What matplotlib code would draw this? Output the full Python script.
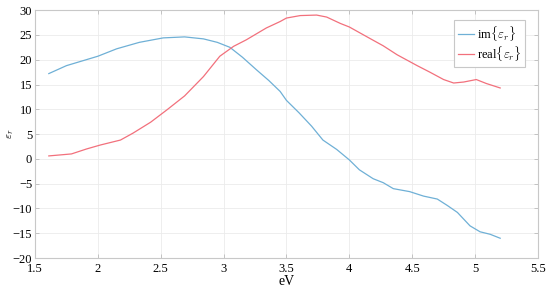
import matplotlib
matplotlib.use("Agg")
import matplotlib.pyplot as plt

# values
ev_im = [1.61, 1.75, 2.0, 2.15, 2.33, 2.52, 2.69, 2.84, 2.95, 3.05, 3.15, 3.26, 3.36, 3.45,
         3.5, 3.6, 3.7, 3.79, 3.9, 4.0, 4.08, 4.19, 4.27, 4.35, 4.48, 4.59, 4.7, 4.78,
         4.86, 4.96, 5.04, 5.12, 5.2]
eps_im = [17.2, 18.8, 20.7, 22.2, 23.5, 24.4, 24.6, 24.2, 23.5, 22.5, 20.5, 18.0, 15.8, 13.6,
          11.8, 9.3, 6.6, 3.8, 1.9, -0.2, -2.2, -4.0, -4.8, -6.0, -6.6, -7.5, -8.1, -9.4,
          -10.8, -13.5, -14.7, -15.2, -16.0]

ev_re = [1.61, 1.79, 1.91, 2.02, 2.18, 2.28, 2.42, 2.55, 2.69, 2.84, 2.97, 3.08, 3.18, 3.34,
         3.45, 3.5, 3.61, 3.74, 3.82, 3.93, 4.0, 4.17, 4.27, 4.38, 4.54, 4.64, 4.75, 4.83,
         4.91, 5.01, 5.09, 5.2]
eps_re = [0.6, 1.0, 2.0, 2.8, 3.8, 5.2, 7.4, 9.9, 12.7, 16.6, 20.7, 22.7, 24.0, 26.4,
          27.7, 28.4, 28.9, 29.0, 28.6, 27.3, 26.6, 24.2, 22.8, 21.0, 18.8, 17.5, 16.0, 15.3,
          15.5, 16.0, 15.2, 14.3]

xticks = [1.5, 2, 2.5, 3, 3.5, 4, 4.5, 5, 5.5]
yticks = [-20, -15, -10, -5, 0, 5, 10, 15, 20, 25, 30]

plt.rcParams['font.family'] = ['Liberation Serif', 'DejaVu Serif']
plt.rcParams['mathtext.fontset'] = 'cm'

fig = plt.figure(figsize=(5.5, 2.89), dpi=100)
ax = fig.add_axes([0.0636, 0.107, 0.9144, 0.858])

ax.plot(ev_im, eps_im, color='#6fb0d6', lw=0.9, label=r'im$\{\varepsilon_r\}$')
ax.plot(ev_re, eps_re, color='#f2707c', lw=0.9, label=r'real$\{\varepsilon_r\}$')

ax.set_xlim(1.5, 5.5)
ax.set_ylim(-20, 30)
ax.set_xticks(xticks)
ax.set_xticklabels([f'{t:g}' for t in xticks])
ax.set_yticks(yticks)
ax.set_yticklabels([f'{t:g}'.replace('-', '\u2212') for t in yticks])
ax.grid(True, color='#ebebeb', lw=0.6)
ax.tick_params(direction='in', length=3, width=0.6, color='#bbbbbb', labelsize=9,
               top=True, right=True, pad=2)
ax.tick_params(axis='x', pad=3.5)
for s in ax.spines.values():
    s.set_color('#c8c8c8')
    s.set_linewidth(0.8)

ax.set_xlabel('eV', fontsize=10, labelpad=0)
ax.set_ylabel(r'$\varepsilon_r$', fontsize=8)
ax.yaxis.set_label_coords(-0.038, 0.5)

leg = ax.legend(loc='upper right', bbox_to_anchor=(0.982, 0.975), fontsize=9,
                handlelength=1.3, handletextpad=0.2, borderpad=0.3, labelspacing=0.1,
                fancybox=False, framealpha=1, borderaxespad=0.3)
leg.get_frame().set_edgecolor('#c8c8c8')
leg.get_frame().set_linewidth(0.8)

fig.savefig('out.png', dpi=100)
